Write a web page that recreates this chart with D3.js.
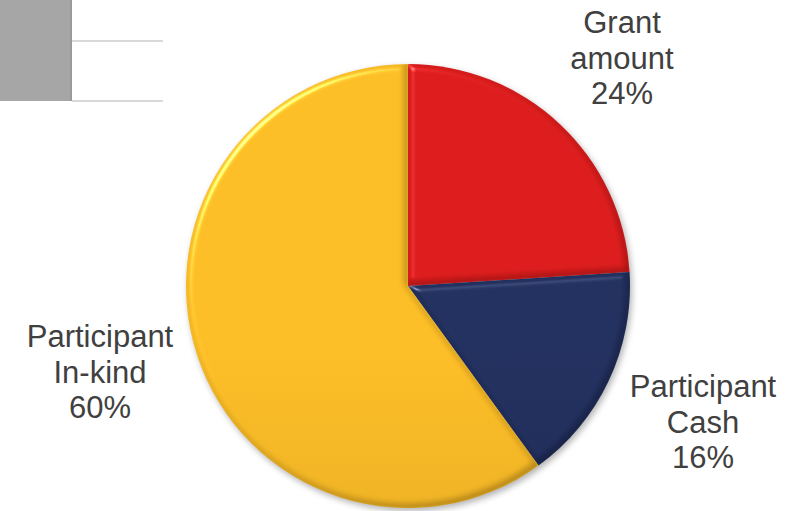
<!DOCTYPE html>
<html>
<head>
<meta charset="utf-8">
<script src="https://cdn.jsdelivr.net/npm/d3@7"></script>
<style>
html,body{margin:0;padding:0;background:#fff;}
svg{display:block;}
</style>
</head>
<body>
<script>
// Data
const categories = ["Grant amount", "Participant Cash", "Participant In-kind"];
const values = [24, 16, 60];
const labelLines = [["Grant", "amount", "24%"], ["Participant", "Cash", "16%"], ["Participant", "In-kind", "60%"]];

const W = 802, H = 511;
const cx = 408, cy = 286, R = 222;

const svg = d3.select("body").append("svg").attr("width", W).attr("height", H);
const defs = svg.append("defs");

// gradients
const grads = [
  {id: "gRed", top: "#DC1C1C", bot: "#B51414"},
  {id: "gBlue", top: "#22305F", bot: "#1A244E"},
  {id: "gYel", top: "#FBBD26", bot: "#D69D1F"}
];
grads.forEach(g => {
  const lg = defs.append("linearGradient").attr("id", g.id)
    .attr("gradientUnits", "userSpaceOnUse")
    .attr("x1", cx).attr("y1", cy - R).attr("x2", cx).attr("y2", cy + R);
  lg.append("stop").attr("offset", "0%").attr("stop-color", g.top);
  lg.append("stop").attr("offset", "100%").attr("stop-color", g.bot);
});

// bevel filter
const f = defs.append("filter").attr("id", "bevel")
  .attr("color-interpolation-filters", "sRGB")
  .attr("x", "-10%").attr("y", "-10%").attr("width", "120%").attr("height", "120%");
f.append("feGaussianBlur").attr("in", "SourceAlpha").attr("stdDeviation", 3).attr("result", "blur");
const sl = f.append("feSpecularLighting").attr("in", "blur").attr("surfaceScale", 4)
  .attr("specularConstant", 0.6).attr("specularExponent", 40)
  .attr("lighting-color", "#ffffff").attr("result", "spec");
sl.append("feDistantLight").attr("azimuth", 225).attr("elevation", 40);
f.append("feComposite").attr("in", "spec").attr("in2", "SourceAlpha").attr("operator", "in").attr("result", "specIn");
f.append("feComposite").attr("in", "SourceGraphic").attr("in2", "specIn")
  .attr("operator", "arithmetic").attr("k1", 0).attr("k2", 1).attr("k3", 0.8).attr("k4", 0).attr("result", "lit");
// darken lower-right edges
f.append("feOffset").attr("in", "blur").attr("dx", -3).attr("dy", -3).attr("result", "off");
f.append("feComposite").attr("in", "SourceAlpha").attr("in2", "off").attr("operator", "out").attr("result", "edge");
f.append("feGaussianBlur").attr("in", "edge").attr("stdDeviation", 1.5).attr("result", "edgeB");
f.append("feComposite").attr("in", "edgeB").attr("in2", "SourceAlpha").attr("operator", "in").attr("result", "edgeIn");
f.append("feColorMatrix").attr("in", "edgeIn").attr("type", "matrix")
  .attr("values", "0 0 0 0 0  0 0 0 0 0  0 0 0 0 0  0 0 0 0.3 0").attr("result", "shade");
const m = f.append("feMerge");
m.append("feMergeNode").attr("in", "lit");
m.append("feMergeNode").attr("in", "shade");

// drop shadow
const ds = defs.append("filter").attr("id", "shadow")
  .attr("color-interpolation-filters", "sRGB")
  .attr("x", "-10%").attr("y", "-10%").attr("width", "120%").attr("height", "120%");
ds.append("feGaussianBlur").attr("in", "SourceAlpha").attr("stdDeviation", 3).attr("result", "b");
ds.append("feOffset").attr("in", "b").attr("dx", 2).attr("dy", 3).attr("result", "o");
ds.append("feColorMatrix").attr("in", "o").attr("type", "matrix")
  .attr("values", "0 0 0 0 0  0 0 0 0 0  0 0 0 0 0  0 0 0 0.3 0");

// decoration at top-left
svg.append("rect").attr("x", 0).attr("y", 0).attr("width", 72).attr("height", 101).attr("fill", "#A6A6A6");
svg.append("rect").attr("x", 70).attr("y", 0).attr("width", 2).attr("height", 101).attr("fill", "#9A9A9A");
svg.append("line").attr("x1", 72).attr("x2", 163).attr("y1", 41).attr("y2", 41).attr("stroke", "#D9D9D9").attr("stroke-width", 2);
svg.append("line").attr("x1", 72).attr("x2", 163).attr("y1", 101).attr("y2", 101).attr("stroke", "#D9D9D9").attr("stroke-width", 2);

const pie = d3.pie().sort(null).value(d => d)(values);
const arc = d3.arc().innerRadius(0).outerRadius(R);
const fills = ["url(#gRed)", "url(#gBlue)", "url(#gYel)"];

const g = svg.append("g").attr("transform", `translate(${cx},${cy})`);
g.append("circle").attr("r", R).attr("fill", "#888").attr("filter", "url(#shadow)");
g.selectAll("path.slice").data(pie).enter().append("path")
  .attr("class", "slice")
  .attr("d", arc)
  .attr("fill", (d, i) => fills[i])
  .attr("filter", "url(#bevel)");

// labels
const labelPos = [[622, 33], [703, 397], [100, 347]];
const lh = 35.5;
labelLines.forEach((lines, i) => {
  const t = svg.append("text")
    .attr("text-anchor", "middle")
    .attr("font-family", "Liberation Sans, Arial, sans-serif")
    .attr("font-size", 31)
    .attr("fill", "#404040");
  lines.forEach((s, j) => {
    t.append("tspan").attr("x", labelPos[i][0]).attr("y", labelPos[i][1] + j * lh).text(s);
  });
});
</script>
</body>
</html>
